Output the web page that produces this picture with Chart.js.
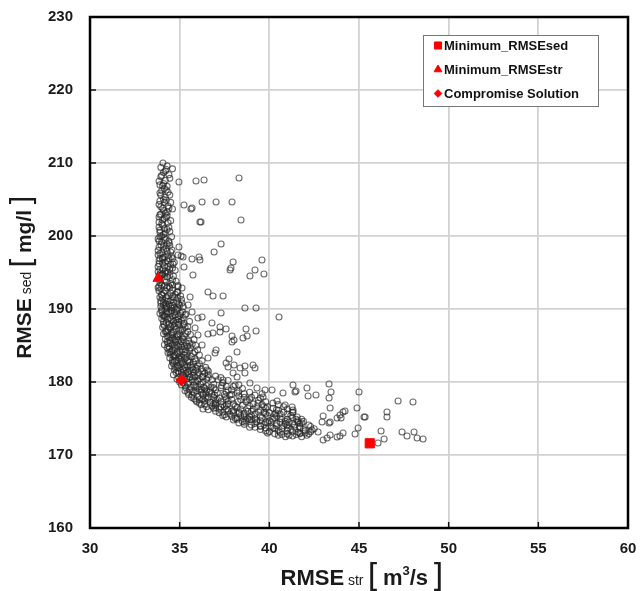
<!DOCTYPE html>
<html><head><meta charset="utf-8">
<script src="https://cdn.jsdelivr.net/npm/chart.js@4.4.1/dist/chart.umd.min.js"></script>
<style>html,body{margin:0;padding:0;background:#fff;}#wrap{width:641px;height:591px;position:relative;}</style>
</head><body><div id="wrap"><canvas id="c" width="641" height="591"></canvas></div>
<script>
const xTicks=[30,35,40,45,50,55,60];
const yTicks=[160,170,180,190,200,210,220,230];
const legendLabels=['Minimum_RMSEsed','Minimum_RMSEstr','Compromise Solution'];
const xTitle=['RMSE',' str ','m','3','/s'];
const yTitle=['RMSE',' sed ','mg/l'];
const minSed=[[45.6,171.6]];
const minStr=[[33.8,194.2]];
const compromise=[[35.1,180.3]];
// dense Pareto band
const bandMain=[[34.07,210.0],[34.3,209.6],[34.6,209.2],[34.1,208.7],[33.95,208.1],[34.2,207.6],[33.9,207.0],[34.15,206.5],[34.35,206.0],[33.95,205.6],[34.1,205.0],[34.5,204.6],[33.85,204.3],[34.05,203.8],[34.3,203.3],[33.9,202.9],[34.6,203.7],[34.15,202.4],[33.85,201.9],[34.05,201.5],[34.4,201.2],[33.9,200.8],[34.2,200.4],[34.55,199.9],[33.8,199.6],[34.0,199.2],[34.3,198.9],[33.85,198.5],[34.1,198.1],[34.5,197.8],[33.8,197.4],[34.05,197.0],[34.3,196.6],[33.85,196.2],[34.15,195.9],[34.45,195.5],[33.8,195.1],[34.0,194.7],[34.3,194.4],[34.6,194.0],[33.9,193.6],[34.15,193.2],[34.45,192.9],[33.85,192.5],[34.1,192.2],[34.35,191.8],[34.7,191.5],[33.95,191.1],[34.2,190.7],[34.5,190.4],[34.8,190.0],[34.0,189.7],[34.3,189.3],[34.6,189.0],[34.95,188.6],[34.1,188.3],[34.4,187.9],[34.7,187.6],[35.05,187.2],[34.2,186.9],[34.5,186.5],[34.85,186.2],[35.2,185.8],[34.3,185.5],[34.6,185.1],[34.95,184.8],[35.35,184.4],[34.45,184.1],[34.75,183.7],[35.1,183.4],[35.5,183.0],[34.6,182.7],[34.9,182.3],[35.3,182.0],[35.75,181.7],[34.8,181.3],[35.2,181.0],[35.6,180.7],[36.1,180.4],[35.0,180.0],[35.45,179.7],[35.9,179.4],[36.4,179.1],[35.3,178.8],[35.8,178.5],[36.3,178.2],[36.9,177.9],[35.8,177.7],[36.4,177.4],[37.0,177.1],[37.6,176.8],[36.5,176.6],[37.2,176.3],[37.9,176.0],[38.6,175.7],[37.4,175.4],[38.2,175.1],[39.0,174.8],[39.8,174.5],[38.6,174.2],[39.5,173.9],[40.3,173.6],[41.0,173.3],[39.9,173.0],[40.7,172.8],[41.3,172.6]];
const bandExtra=[[34.25,209.1],[34.0,208.3],[34.45,207.9],[34.1,207.2],[34.3,206.8],[34.0,206.2],[34.2,205.3],[33.9,204.8],[34.35,204.1],[34.1,203.5],[33.95,203.0],[34.25,202.6],[34.5,202.1],[34.0,201.7],[33.85,201.2],[34.3,200.9],[34.1,200.2],
[33.9,199.9],[34.2,199.5],[34.4,199.3],[33.95,198.8],[34.25,198.3],[33.8,198.0],[34.0,197.7],[34.35,197.3],[33.9,196.9],[34.2,196.4],[34.5,196.1],[33.8,195.8],[34.05,195.4],[34.3,195.1],[33.95,194.9],[34.6,196.9],[34.75,195.3],
[33.85,194.6],[34.2,194.9],[34.45,194.6],[33.9,194.2],[34.15,193.9],[34.5,193.5],[34.8,193.8],[34.0,193.3],[34.3,192.9],[33.8,192.9],[34.6,192.6],[34.9,192.3],[34.0,192.0],[34.25,191.6],[34.5,191.2],[34.85,191.0],[33.9,191.6],[34.1,190.9],[34.4,190.6],[34.7,190.2],[35.0,190.5],[33.95,190.3],[34.2,190.1],[34.55,189.8],[35.15,189.6],
[33.9,189.4],[34.15,189.1],[34.45,188.8],[34.8,188.5],[35.2,188.8],[34.0,188.7],[34.25,188.1],[34.6,187.8],[34.95,187.9],[35.3,187.5],[34.05,187.5],[34.35,187.2],[34.65,186.9],[35.0,186.6],[35.45,186.9],[34.1,186.6],[34.4,186.2],[34.7,185.8],[35.1,185.5],[35.5,185.6],[34.2,185.9],[34.5,185.3],[34.85,185.0],[35.25,184.9],[35.7,185.2],[34.15,185.1],
[34.3,184.7],[34.6,184.4],[35.0,184.2],[35.4,183.9],[35.85,184.1],[34.35,184.0],[34.7,183.5],[35.05,183.1],[35.45,182.8],[35.9,182.9],[34.45,183.3],[34.8,182.9],[35.15,182.6],[35.6,182.3],[36.1,182.5],[34.55,182.2],[34.95,181.9],[35.35,181.6],[35.8,181.3],[36.3,181.5],[34.7,181.7],[35.1,181.3],[35.5,181.1],[36.0,180.9],[36.6,181.0],[34.65,181.0],[35.25,180.6],[36.8,180.3],
[34.85,180.4],[35.15,180.8],[35.7,180.3],[36.3,180.0],[36.9,179.7],[37.4,179.9],[35.2,179.9],[35.6,179.3],[36.1,179.0],[36.7,178.8],[37.3,179.2],[37.9,178.9],[35.35,179.2],[35.7,178.7],[36.2,178.6],[36.8,178.4],[37.5,178.3],[38.2,178.5],[35.5,178.3],[36.0,178.0],[36.6,177.9],[37.2,177.8],[37.9,177.6],[38.6,177.9],[39.2,178.2],[36.2,178.9],[37.6,178.6],[35.9,180.0],[36.5,179.5],
[35.95,177.3],[36.3,177.6],[36.7,177.2],[37.3,177.3],[38.0,177.0],[38.7,177.3],[39.4,177.5],[36.2,176.9],[36.8,176.7],[37.5,176.6],[38.2,176.5],[38.9,176.7],[39.6,176.9],[40.2,177.1],[36.6,176.2],[37.4,175.9],[38.0,176.1],[38.8,176.0],[39.5,176.2],[40.2,176.4],[40.8,176.6],[37.0,176.0],[37.8,175.6],[39.2,175.6],[40.0,175.8],
[37.6,175.2],[38.4,175.4],[38.9,175.2],[39.6,175.1],[40.4,175.3],[41.0,175.6],[38.0,174.8],[38.7,174.7],[39.3,174.5],[40.0,174.7],[40.7,174.9],[41.3,175.1],[38.3,174.4],[39.0,174.1],[39.7,174.2],[40.4,174.3],[41.1,174.5],[41.6,174.7],[38.9,173.8],[39.5,173.5],[40.1,173.9],[40.8,174.0],[41.4,174.1],
[39.8,173.3],[40.5,173.3],[41.2,173.5],[41.7,173.7],[40.3,172.9],[41.0,172.9],[41.6,173.1],[42.0,173.3],[40.9,172.5],[41.5,172.8],[42.2,172.9],[41.8,172.5]];
const bandFill=[[33.95,209.4],[34.2,208.9],[34.4,208.4],[33.85,207.5],[34.05,206.9],[34.25,206.3],[34.45,205.6],[33.9,205.9],[34.15,204.6],[33.95,204.0],
[34.25,204.9],[34.4,203.8],[34.2,203.1],[33.85,202.6],[34.05,202.2],[34.35,201.8],[34.15,201.0],[33.9,200.5],[34.45,200.6],[34.0,200.0],[34.3,202.8],
[34.15,199.8],[33.85,199.3],[34.1,198.6],[34.45,198.7],[34.3,197.9],[33.9,197.6],[34.15,197.1],[34.55,197.2],[33.85,196.6],[34.05,196.3],[34.35,195.8],[34.6,195.6],[33.9,195.4],[34.2,195.2],[34.05,196.8],[34.4,196.9],[34.7,196.4],
[34.05,194.8],[34.35,194.9],[34.65,194.5],[33.9,194.0],[34.25,193.7],[34.6,193.3],[34.9,193.2],[33.95,192.8],[34.2,192.5],[34.5,192.2],[34.75,192.0],[35.05,191.8],[34.05,191.4],[34.35,191.1],[34.65,190.9],[34.95,190.7],[35.2,190.3],[34.1,190.5],[34.3,190.2],[34.85,189.8],[33.85,193.1],[34.4,193.1],[34.55,190.1],[35.1,191.3],
[34.0,189.9],[34.25,189.6],[34.5,189.4],[34.75,189.2],[35.0,189.1],[35.35,189.3],[34.1,189.0],[34.35,188.6],[34.65,188.3],[34.95,188.2],[35.25,188.0],[35.55,188.3],[34.1,187.9],[34.5,187.6],[34.8,187.3],[35.15,187.1],[35.45,187.6],[34.25,187.0],[34.55,186.7],[34.9,186.4],[35.25,186.3],[35.6,186.5],[34.3,186.3],[34.6,186.0],[34.95,185.7],[35.35,185.4],[35.8,185.8],[34.35,185.3],[34.75,185.5],[35.05,185.1],[35.45,184.9],[35.9,185.0],
[34.4,184.5],[34.75,184.6],[35.15,184.5],[35.55,184.3],[36.0,184.4],[34.5,183.8],[34.85,184.0],[35.25,183.7],[35.65,183.5],[36.1,183.7],[34.6,183.0],[34.95,183.3],[35.3,183.2],[35.75,182.7],[36.25,182.9],[34.65,182.5],[35.05,182.4],[35.45,182.1],[35.95,181.9],[36.45,182.0],[34.75,182.0],[35.2,181.7],[35.55,181.6],[36.05,181.3],[36.6,181.5],[34.9,181.5],[35.35,181.2],[35.75,180.9],[36.25,180.7],[37.0,180.8],
[34.95,180.6],[35.4,180.4],[35.85,180.7],[36.5,180.4],[37.15,180.3],[37.7,180.2],[35.1,179.6],[35.5,179.9],[36.15,179.7],[36.75,179.3],[37.35,179.5],[38.0,179.4],[38.5,179.1],[35.55,178.9],[36.0,179.3],[36.5,178.9],[37.0,178.9],[37.7,178.9],[38.3,178.7],[38.9,178.6],[35.7,178.2],[36.3,178.4],[36.95,178.2],[37.55,178.0],[38.3,178.1],[39.0,177.9],[39.6,178.4],[35.65,177.9],[36.65,178.6],[37.9,178.3],
[36.1,177.6],[36.55,177.6],[37.1,177.6],[37.7,177.4],[38.4,177.6],[39.1,177.0],[39.8,177.3],[36.4,177.0],[37.0,176.9],[37.7,177.0],[38.5,176.8],[39.3,176.6],[39.9,176.6],[40.5,176.9],[36.9,176.4],[37.6,176.3],[38.4,176.3],[39.1,176.3],[39.8,176.4],[40.5,176.1],[41.0,176.3],[37.2,175.8],[38.0,175.8],[38.6,175.5],[39.4,175.9],[40.3,175.6],[40.8,175.9],[36.3,176.3],[37.3,176.6],
[37.9,175.3],[38.6,175.2],[39.2,175.0],[39.9,175.4],[40.6,175.0],[41.2,175.4],[38.2,174.9],[38.9,174.9],[39.5,174.7],[40.2,174.9],[40.9,174.6],[41.5,174.9],[38.6,174.5],[39.2,174.3],[39.9,174.4],[40.6,174.5],[41.3,174.3],[41.9,174.6],[39.2,173.8],[39.8,173.7],[40.4,174.0],[41.0,174.1],[41.7,174.3],[42.2,174.1],
[40.0,173.2],[40.6,173.1],[41.3,173.2],[41.9,173.5],[40.5,172.7],[41.1,172.7],[41.7,172.9],[42.3,173.2],[40.7,173.6],[41.4,173.8],[42.5,173.6],[42.1,172.7]];
const bandCore=[[34.0,191.9],[34.3,191.4],[34.6,191.7],[34.9,191.5],[33.95,190.8],[34.25,190.4],[34.6,190.5],[34.9,190.1],[34.05,189.2],[34.4,189.6],[34.7,189.6],[35.05,189.4],[34.2,188.9],[34.55,188.5],[34.9,188.9],[35.1,188.4],[34.15,187.7],[34.45,187.4],[34.75,188.0],[35.2,187.8],[34.3,186.8],[34.6,186.4],[34.95,187.0],[35.35,186.6],
[34.45,185.7],[34.8,185.9],[35.15,186.1],[35.55,185.3],[34.4,184.9],[34.7,184.9],[35.1,184.8],[35.6,184.7],[34.55,184.2],[34.9,183.8],[35.3,184.1],[35.75,183.9],[34.65,183.6],[35.0,183.6],[35.4,183.4],[35.85,183.2],[34.7,182.8],[35.1,182.8],[35.55,182.7],[36.0,182.2],[34.85,182.1],[35.25,182.3],[35.7,182.0],[36.2,181.8],[34.95,181.2],[35.45,181.4],[35.9,181.6],[36.4,181.2],
[35.05,180.2],[35.55,180.6],[36.0,180.2],[36.6,180.6],[37.3,180.6],[35.3,179.5],[35.8,179.6],[36.35,179.3],[36.9,179.2],[37.6,179.4],[38.3,179.6],[35.45,178.6],[35.95,178.8],[36.45,178.5],[37.1,178.5],[37.8,178.2],[38.6,178.4],[35.9,177.5],[36.45,177.9],[37.0,177.5],[37.6,177.7],[38.25,177.3],[38.9,177.6],[39.5,177.8],[36.1,177.1],[36.9,177.0],[37.4,176.9],[38.1,176.7],[38.8,176.4],[39.7,176.6],
[37.0,176.5],[37.7,176.1],[38.3,175.9],[39.0,176.0],[39.7,175.8],[40.4,176.2],[37.5,175.5],[38.3,175.7],[39.0,175.4],[39.8,175.6],[40.6,175.6],[41.3,175.8],[38.1,175.0],[38.8,175.0],[39.5,175.3],[40.3,175.1],[41.0,174.9],[41.8,174.9],[38.5,174.6],[39.3,174.8],[40.1,174.5],[40.9,174.3],[41.6,174.5],[39.5,174.0],[40.2,173.7],[41.0,173.7],[41.7,173.9],[42.3,173.9]];
// scattered (dominated) solutions
const scatterUpper=[[34.96,207.4],[35.91,207.53],[36.36,207.67],[38.31,207.95],[36.25,204.66],[37.03,204.66],[37.92,204.66],[35.24,204.25],[35.63,203.7],[35.69,203.84],[36.19,201.92],[36.13,201.92],[38.42,202.19],[37.31,198.9],[36.92,197.81],[34.96,198.49],[35.08,197.26],[35.69,196.85],[36.08,197.12],[36.13,196.71],[34.63,196.16],[35.24,195.75],[37.98,196.44],[37.86,195.62],[39.59,196.71],[39.7,194.79],[39.2,195.34],[38.92,194.52],[35.74,194.66],[37.81,195.34],[34.41,199.04],[34.57,198.08],[34.91,197.4],[35.19,197.12],[34.91,193.01],[34.85,192.33],[35.13,192.88],[35.58,191.64],[35.47,190.55],[35.69,189.59],[35.13,190.82],[35.3,189.18],[36.02,188.77],[35.86,187.4],[36.02,186.44],[36.25,185.07]];
const scatterMid=[[36.58,192.33],[36.86,191.78],[37.42,191.78],[37.31,189.45],[38.64,190.14],[39.26,190.14],[40.54,188.9],[36.25,188.9],[36.8,188.08],[37.25,187.53],[37.25,186.85],[37.59,187.26],[38.7,187.26],[39.26,186.99],[36.58,186.58],[36.86,186.71],[37.92,186.3],[38.03,185.75],[37.92,185.48],[38.53,186.03],[38.76,186.3],[38.2,184.11],[37.03,184.38],[36.97,183.97],[36.58,183.29],[37.75,183.15],[37.59,182.6],[38.03,182.33],[38.37,181.92],[39.09,182.33],[39.2,181.92],[38.64,181.23],[38.2,180.68],[37.42,180.27],[39.31,179.18],[39.76,178.9],[36.53,181.64],[36.3,180.68],[38.64,182.19],[37.7,182.05],[37.98,181.23],[38.09,179.59],[38.92,179.86],[39.65,177.95],[39.37,177.12],[38.76,177.53]];
const scatterLower=[[40.76,178.49],[41.43,178.63],[40.43,177.4],[40.88,176.85],[41.27,176.58],[40.37,175.75],[41.55,175.21],[40.15,178.9],[41.32,179.59],[41.49,178.77],[42.1,179.18],[42.16,178.08],[42.6,178.22],[43.33,179.73],[43.44,178.63],[43.33,177.81],[43.39,176.44],[45.0,178.63],[44.89,176.44],[47.18,177.4],[48.01,177.26],[46.56,175.89],[46.56,175.21],[45.34,175.21],[41.32,175.89],[44.11,175.89],[43.94,175.48],[43.78,175.07],[43.0,175.34],[42.94,174.52],[43.33,174.38],[41.82,174.38],[44.95,173.7],[46.23,173.29],[47.4,173.15],[48.07,173.15],[47.68,172.6],[48.24,172.33],[48.57,172.19],[46.4,172.19],[46.06,171.64],[44.78,172.88],[44.11,173.01],[43.78,172.47],[43.22,172.33],[43.0,172.05],[43.39,172.74],[43.94,172.6],[42.72,173.15],[42.38,173.42],[41.99,173.01],[41.71,173.01],[41.32,176.16],[43.39,174.52],[44.0,175.07],[44.22,176.03],[45.28,175.21]];
const solutions=bandMain.concat(bandExtra,bandFill,bandCore,scatterUpper,scatterMid,scatterLower);

const toPts=a=>a.map(p=>({x:p[0],y:p[1]}));
const FONT='"Liberation Sans", Arial, sans-serif';

function drawParts(ctx,parts,cx,cy){
  let w=0;
  parts.forEach(p=>{ctx.font=p.font;p.w=ctx.measureText(p.t).width;w+=p.w+(p.gap||0);});
  let x=cx-w/2;
  ctx.textAlign='left';ctx.textBaseline='alphabetic';
  parts.forEach(p=>{ctx.font=p.font;ctx.fillStyle='#1a1a1a';ctx.fillText(p.t,x,cy+(p.dy||0));x+=p.w+(p.gap||0);});
}

const decor={
  id:'decor',
  afterDraw(chart){
    const ctx=chart.ctx, a=chart.chartArea, xs=chart.scales.x, ys=chart.scales.y;
    ctx.save();
    ctx.strokeStyle='#111';ctx.lineWidth=1.5;
    xTicks.forEach(v=>{const px=xs.getPixelForValue(v);ctx.beginPath();ctx.moveTo(px,a.bottom);ctx.lineTo(px,a.bottom-6);ctx.stroke();});
    yTicks.forEach(v=>{const py=ys.getPixelForValue(v);ctx.beginPath();ctx.moveTo(a.left,py);ctx.lineTo(a.left+6,py);ctx.stroke();});
    ctx.strokeStyle='#000';ctx.lineWidth=2.5;
    ctx.strokeRect(a.left,a.top,a.right-a.left,a.bottom-a.top);
    const lx=423.5, ly=35.5, lw=175, lh=71;
    ctx.fillStyle='#fff';ctx.fillRect(lx,ly,lw,lh);
    ctx.strokeStyle='#777';ctx.lineWidth=1;ctx.strokeRect(lx,ly,lw,lh);
    const styles=[{s:'rect',r:5},{s:'triangle',r:4.5},{s:'rectRot',r:3.8}];
    legendLabels.forEach((lab,i)=>{
      const yy=ly+10+i*24;
      ctx.fillStyle='#ff0000';ctx.strokeStyle='#ff0000';ctx.lineWidth=1;
      Chart.helpers.drawPoint(ctx,{pointStyle:styles[i].s,radius:styles[i].r,rotation:0,borderWidth:1},438,yy);
      ctx.font='bold 13px '+FONT;ctx.fillStyle='#111';ctx.textAlign='left';ctx.textBaseline='middle';
      ctx.fillText(lab,444,yy+0.5);
    });
    drawParts(ctx,[
      {t:xTitle[0],font:'bold 22px '+FONT},
      {t:xTitle[1],font:'14px '+FONT},
      {t:'[',font:'32px "DejaVu Sans", sans-serif',gap:3,dy:1},
      {t:xTitle[2],font:'bold 22px '+FONT},
      {t:xTitle[3],font:'bold 13px '+FONT,dy:-10},
      {t:xTitle[4],font:'bold 22px '+FONT,gap:3},
      {t:']',font:'32px "DejaVu Sans", sans-serif',dy:1}
    ],362,585);
    ctx.translate(31,277);ctx.rotate(-Math.PI/2);
    drawParts(ctx,[
      {t:yTitle[0],font:'bold 21px '+FONT},
      {t:yTitle[1],font:'14px '+FONT},
      {t:'[',font:'30px "DejaVu Sans", sans-serif',gap:3,dy:1},
      {t:yTitle[2],font:'bold 21px '+FONT,gap:3},
      {t:']',font:'30px "DejaVu Sans", sans-serif',dy:1}
    ],0,0);
    ctx.restore();
  }
};

new Chart(document.getElementById('c'),{
  type:'scatter',
  data:{datasets:[
    {label:legendLabels[0],data:toPts(minSed),pointStyle:'rect',pointRadius:6.5,backgroundColor:'#ff0000',borderColor:'#ff0000',order:0},
    {label:legendLabels[1],data:toPts(minStr),pointStyle:'triangle',pointRadius:6,backgroundColor:'#ff0000',borderColor:'#ff0000',order:0},
    {label:legendLabels[2],data:toPts(compromise),pointStyle:'rectRot',pointRadius:5.5,backgroundColor:'#ff0000',borderColor:'#ff0000',order:0},
    {label:'Solutions',data:toPts(solutions),pointStyle:'circle',pointRadius:3,borderWidth:1.1,backgroundColor:'rgba(0,0,0,0)',borderColor:'rgba(40,40,40,0.68)',order:1}
  ]},
  options:{
    responsive:false,animation:false,devicePixelRatio:1,
    layout:{padding:{top:17,right:13,left:0,bottom:0}},
    plugins:{legend:{display:false},tooltip:{enabled:false}},
    scales:{
      x:{type:'linear',min:30,max:60,
        afterBuildTicks:s=>{s.ticks=xTicks.map(v=>({value:v}));},
        afterFit:s=>{s.height=63;s.paddingLeft=0;s.paddingRight=0;},
        grid:{color:'#d2d2d2',lineWidth:1.8,drawTicks:false},
        border:{display:false},
        ticks:{padding:12,color:'#1a1a1a',font:{family:FONT,size:15,weight:'bold'},maxRotation:0}
      },
      y:{type:'linear',min:160,max:230,
        afterBuildTicks:s=>{s.ticks=yTicks.map(v=>({value:v}));},
        afterFit:s=>{s.width=90;s.paddingTop=0;s.paddingBottom=0;},
        grid:{color:'#d2d2d2',lineWidth:1.8,drawTicks:false},
        border:{display:false},
        ticks:{padding:17,color:'#1a1a1a',font:{family:FONT,size:15,weight:'bold'}}
      }
    }
  },
  plugins:[decor]
});
</script></body></html>
